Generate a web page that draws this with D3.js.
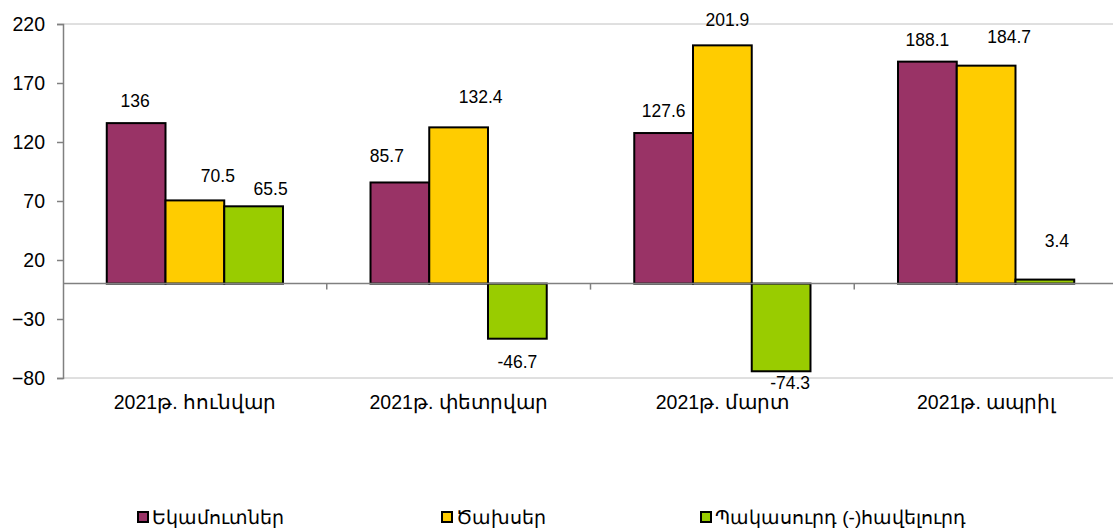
<!DOCTYPE html>
<html>
<head>
<meta charset="utf-8">
<script src="https://cdn.jsdelivr.net/npm/d3@7"></script>
<style>
  body { margin: 0; background: #fff; }
  text { font-family: "Liberation Sans", Arial, "Noto Sans", sans-serif; fill: #000; }
</style>
</head>
<body>
<div id="chart"></div>
<script>
// categories and series
const months = ["2021թ. հունվար", "2021թ. փետրվար", "2021թ. մարտ", "2021թ. ապրիլ"];
const seriesNames = ["Եկամուտներ", "Ծախսեր", "Պակասուրդ (-)հավելուրդ"];
const revenue = [136, 85.7, 127.6, 188.1];
const expense = [70.5, 132.4, 201.9, 184.7];
const balance = [65.5, -46.7, -74.3, 3.4];
const yTicks = [-80, -30, 20, 70, 120, 170, 220];

const colors = ["#993366", "#ffcc00", "#99cc00"];

// manual label shifts (Excel labels were dragged by hand)
const labelShift = [
  [[-1, 0], [-13, -5], [0, 0], [0, 0]],
  [[23, -3], [22, -8], [5, -3], [23, -7]],
  [[17, 5], [0, 1], [9, -10], [12, -17]]
];

const width = 1113, height = 530;
const margin = {top: 24, left: 63, right: -5, bottom: 152};

const svg = d3.select("#chart").append("svg")
    .attr("width", width)
    .attr("height", height);

const y = d3.scaleLinear()
    .domain([-80, 220])
    .range([height - margin.bottom, margin.top]);

const x0 = d3.scaleBand()
    .domain(months)
    .range([margin.left, width - margin.right])
    .padding(0);

const x1 = d3.scaleBand()
    .domain(d3.range(3))
    .range([0, x0.bandwidth()])
    .paddingInner(0)
    .paddingOuter(0.745);

const data = months.map((m, i) => ({
  month: m,
  values: [revenue[i], expense[i], balance[i]]
}));

// top and bottom border lines of the plot area
svg.selectAll(".border")
  .data([220, -80])
  .enter().append("line")
    .attr("x1", margin.left).attr("x2", width)
    .attr("y1", d => y(d)).attr("y2", d => y(d))
    .attr("stroke", "#c0c0c0").attr("stroke-width", 1);

// y axis
const yAxis = svg.append("g")
    .attr("transform", `translate(${margin.left},0)`)
    .call(d3.axisLeft(y).tickValues(yTicks).tickSize(6).tickPadding(12));
yAxis.select(".domain").attr("stroke", "#808080").attr("stroke-width", 1.5);
yAxis.selectAll(".tick line").attr("stroke", "#808080").attr("stroke-width", 1.5);
yAxis.selectAll(".tick text")
    .attr("font-size", 19.5)
    .attr("font-family", "Liberation Sans, Arial, sans-serif")
    .attr("fill", "#000");

// bars
const groups = svg.selectAll(".grp")
  .data(data)
  .enter().append("g")
    .attr("transform", d => `translate(${x0(d.month)},0)`);

groups.selectAll("rect")
  .data(d => d.values.map((v, k) => ({v, k})))
  .enter().append("rect")
    .attr("x", d => x1(d.k))
    .attr("width", x1.bandwidth())
    .attr("y", d => y(Math.max(0, d.v)))
    .attr("height", d => Math.abs(y(d.v) - y(0)))
    .attr("fill", d => colors[d.k])
    .attr("stroke", "#000")
    .attr("stroke-width", 2);

// zero line with category separators
svg.append("line")
    .attr("x1", margin.left).attr("x2", width)
    .attr("y1", y(0)).attr("y2", y(0))
    .attr("stroke", "#808080").attr("stroke-width", 1.5);

svg.selectAll(".sep")
  .data(months.slice(1))
  .enter().append("line")
    .attr("x1", d => x0(d)).attr("x2", d => x0(d))
    .attr("y1", y(0)).attr("y2", y(0) + 6)
    .attr("stroke", "#808080").attr("stroke-width", 1.5);

// value labels
groups.selectAll(".lbl")
  .data((d, i) => d.values.map((v, k) => ({v, k, i})))
  .enter().append("text")
    .attr("x", d => x1(d.k) + x1.bandwidth() / 2 + labelShift[d.k][d.i][0])
    .attr("y", d => (d.v >= 0 ? y(d.v) - 22 : y(d.v) + 22) + labelShift[d.k][d.i][1])
    .attr("dy", "0.35em")
    .attr("text-anchor", "middle")
    .attr("font-size", 17.5)
    .attr("fill", "#222")
    .text(d => d.v);

// category labels
svg.selectAll(".cat")
  .data(months)
  .enter().append("text")
    .attr("x", d => x0(d) + x0.bandwidth() / 2)
    .attr("y", y(-80) + 24)
    .attr("dy", "0.35em")
    .attr("text-anchor", "middle")
    .attr("font-size", 19.5)
    .text(d => d);

// legend
const legendX = [137, 441, 700];
const legend = svg.selectAll(".leg")
  .data(seriesNames)
  .enter().append("g")
    .attr("transform", (d, i) => `translate(${legendX[i]},517)`);

legend.append("rect")
    .attr("x", 1).attr("y", -5)
    .attr("width", 10).attr("height", 10)
    .attr("fill", (d, i) => colors[i])
    .attr("stroke", "#000").attr("stroke-width", 2);

legend.append("text")
    .attr("x", 15)
    .attr("dy", "0.35em")
    .attr("font-size", 19)
    .text(d => d);
</script>
</body>
</html>
